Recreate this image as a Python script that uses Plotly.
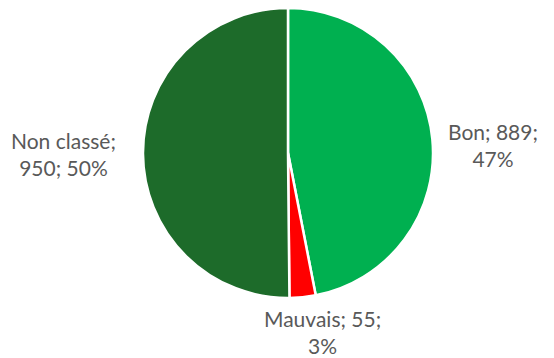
import plotly.graph_objects as go

# Classification counts
categories = ["Bon", "Mauvais", "Non classé"]
counts = [889, 55, 950]
colors = ["#00B050", "#FF0000", "#1D6B2A"]

total = sum(counts)
percents = [round(100 * c / total) for c in counts]

fig = go.Figure(
    go.Pie(
        labels=categories,
        values=counts,
        sort=False,
        direction="clockwise",
        rotation=0,
        marker=dict(colors=colors, line=dict(color="white", width=2.5)),
        textinfo="none",
        hoverinfo="label+value+percent",
        domain=dict(x=[0.2581, 0.7816], y=[0.1676, 0.9777]),
        showlegend=False,
    )
)

# Outside data labels: "name; value;<br>pct%" style
label_texts = [
    f"{categories[0]}; {counts[0]};<br>{percents[0]}%",
    f"{categories[1]}; {counts[1]};<br>{percents[1]}%",
    f"{categories[2]};<br>{counts[2]}; {percents[2]}%",
]
label_pos = [(493, 145), (322, 332), (63, 154)]

for txt, (px, py) in zip(label_texts, label_pos):
    fig.add_annotation(
        x=px / 554,
        y=1 - py / 358,
        xref="paper",
        yref="paper",
        text=txt,
        showarrow=False,
        align="center",
        xanchor="center",
        yanchor="middle",
        font=dict(family="Lato, Open Sans, sans-serif", size=21, color="#595959"),
    )

fig.update_layout(
    width=554,
    height=358,
    margin=dict(l=0, r=0, t=0, b=0),
    paper_bgcolor="white",
    plot_bgcolor="white",
)

fig.write_html("out.html")
